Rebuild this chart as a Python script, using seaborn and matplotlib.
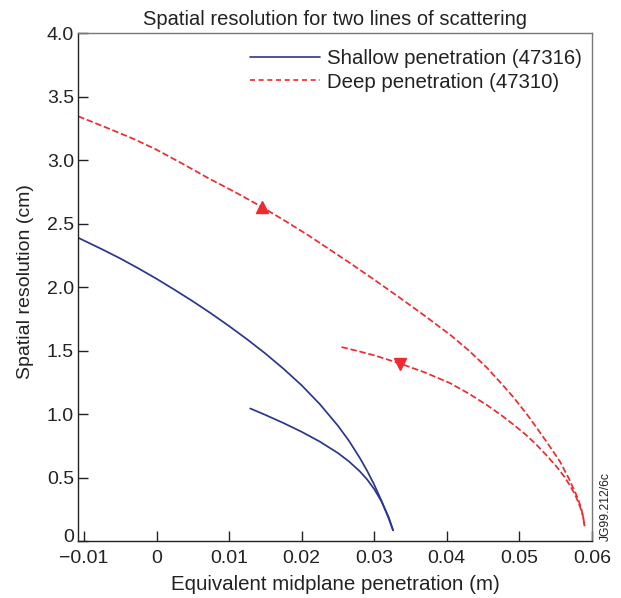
import matplotlib
matplotlib.use("Agg")
import matplotlib.pyplot as plt
from matplotlib.lines import Line2D
from matplotlib.transforms import ScaledTranslation
import pandas as pd
import seaborn as sns

# Shallow penetration (47316), two branches
shallow_upper_x = [-0.0108, -0.0075, -0.005, -0.0025, 0.0, 0.0025, 0.005, 0.0075, 0.01, 0.0125,
                   0.015, 0.0175, 0.02, 0.0225, 0.025, 0.0265, 0.028, 0.029, 0.030, 0.031,
                   0.032, 0.0326]
shallow_upper_y = [2.39, 2.299, 2.227, 2.149, 2.067, 1.98, 1.89, 1.795, 1.695, 1.59,
                   1.479, 1.359, 1.229, 1.081, 0.911, 0.794, 0.659, 0.559, 0.447, 0.321,
                   0.181, 0.088]
shallow_lower_x = [0.0129, 0.015, 0.0175, 0.02, 0.0225, 0.025, 0.0265, 0.028, 0.029, 0.030,
                   0.031, 0.032, 0.0326]
shallow_lower_y = [1.047, 0.996, 0.932, 0.863, 0.786, 0.696, 0.631, 0.553, 0.49, 0.412,
                   0.316, 0.191, 0.088]

# Deep penetration (47310), two branches
deep_upper_x = [-0.0108, -0.0067, -0.003, 0.0, 0.0035, 0.0071, 0.0108, 0.0145, 0.0178, 0.0209,
                0.0238, 0.0267, 0.030, 0.0336, 0.037, 0.0405, 0.043, 0.0455, 0.0475, 0.0492,
                0.051, 0.0524, 0.054, 0.0556, 0.0568, 0.0579, 0.0585, 0.0588, 0.0590]
deep_upper_y = [3.346, 3.252, 3.164, 3.083, 2.975, 2.86, 2.75, 2.633, 2.52, 2.41,
                2.30, 2.19, 2.06, 1.915, 1.775, 1.625, 1.505, 1.37, 1.245, 1.135,
                1.005, 0.895, 0.765, 0.63, 0.50, 0.363, 0.27, 0.20, 0.12]
deep_lower_x = [0.0255, 0.028, 0.030, 0.0336, 0.037, 0.0405, 0.043, 0.0455, 0.0475, 0.0492,
                0.0508, 0.0524, 0.0538, 0.0552, 0.0562, 0.057, 0.0578, 0.0584, 0.0588, 0.0590]
deep_lower_y = [1.53, 1.495, 1.465, 1.40, 1.33, 1.245, 1.165, 1.075, 0.995, 0.92,
                0.845, 0.76, 0.675, 0.585, 0.51, 0.44, 0.355, 0.27, 0.195, 0.12]

# direction markers on the deep curves
arrow_x = [0.0145, 0.0336]
arrow_y = [2.633, 1.40]

x_ticks = [-0.01, 0, 0.01, 0.02, 0.03, 0.04, 0.05, 0.06]
x_labels = ["\u22120.01", "0", "0.01", "0.02", "0.03", "0.04", "0.05", "0.06"]
y_ticks = [0, 0.5, 1.0, 1.5, 2.0, 2.5, 3.0, 3.5, 4.0]
y_labels = ["0", "0.5", "1.0", "1.5", "2.0", "2.5", "3.0", "3.5", "4.0"]

blue = "#2b3590"
red = "#ee2a2e"

sns.set_style("white")
plt.rcParams["font.family"] = ["Liberation Sans", "DejaVu Sans"]

fig = plt.figure(figsize=(6.21, 5.98), dpi=100)
ax = fig.add_axes([0.126, 0.0945, 0.827, 0.850])

branches = [
    (shallow_upper_x, shallow_upper_y, blue, "-"),
    (shallow_lower_x, shallow_lower_y, blue, "-"),
    (deep_upper_x, deep_upper_y, red, "--"),
    (deep_lower_x, deep_lower_y, red, "--"),
]
for bx, by, col, ls in branches:
    df = pd.DataFrame({"x": bx, "y": by})
    sns.lineplot(data=df, x="x", y="y", sort=False, estimator=None, color=col,
                 linestyle=ls, linewidth=1.25, ax=ax,
                 dashes=(2.9, 2.2) if ls == "--" else None)

ax.plot(arrow_x[:1], arrow_y[:1], marker="^", color=red, markersize=8, linestyle="none")
ax.plot(arrow_x[1:], arrow_y[1:], marker="v", color=red, markersize=8, linestyle="none")

ax.set_xlim(-0.0108, 0.06)
ax.set_ylim(0, 4.0)
ax.set_xticks(x_ticks)
ax.set_xticklabels(x_labels)
ax.set_yticks(y_ticks)
ax.set_yticklabels(y_labels)
ax.tick_params(direction="in", length=7, width=1, labelsize=14, colors="#222222",
               bottom=True, left=True, top=False, right=False, pad=3)
ax.tick_params(axis="x", pad=6)

# the "0" on the y axis sits a little above its tick, clear of "-0.01"
zero_label = ax.get_yticklabels()[0]
zero_label.set_transform(zero_label.get_transform()
                         + ScaledTranslation(0, 4 / 72, fig.dpi_scale_trans))

for side in ["left", "bottom"]:
    ax.spines[side].set_color("#222222")
    ax.spines[side].set_linewidth(1.0)
for side in ["top", "right"]:
    ax.spines[side].set_color("#777777")
    ax.spines[side].set_linewidth(1.0)

ax.set_title("Spatial resolution for two lines of scattering", fontsize=14.5, color="#222222", pad=6)
ax.set_xlabel("Equivalent midplane penetration (m)", fontsize=14.8, color="#222222", labelpad=6)
ax.set_ylabel("Spatial resolution (cm)", fontsize=14, color="#222222")
ax.yaxis.set_label_coords(-0.087, 0.511)

handles = [
    Line2D([], [], color=blue, linewidth=1.2, linestyle="-"),
    Line2D([], [], color=red, linewidth=1.2, linestyle=(0, (3.0, 2.2))),
]
ax.legend(handles, ["Shallow penetration (47316)", "Deep penetration (47310)"],
          loc="upper left", bbox_to_anchor=(0.315, 0.988), frameon=False,
          fontsize=14.7, handlelength=3.43, handletextpad=0.33, borderpad=0,
          labelspacing=0.2, labelcolor="#222222")

fig.text(0.975, 0.095, "JG99.212/6c", rotation=90, fontsize=8.7, ha="center", va="bottom",
         color="#222222")

fig.savefig("out.png", dpi=100)
